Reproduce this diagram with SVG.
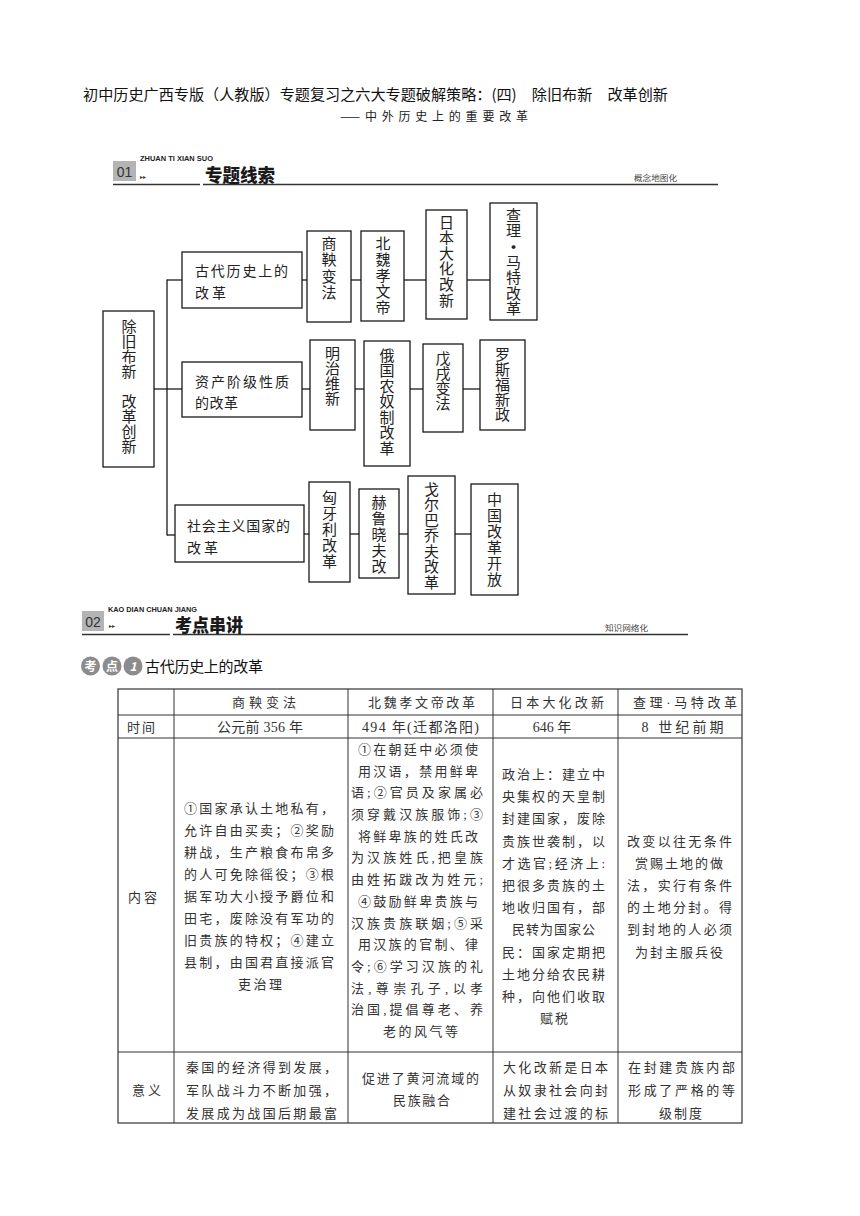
<svg xmlns="http://www.w3.org/2000/svg" width="860" height="1216" viewBox="0 0 860 1216">
<style>
text{font-family:"Noto Sans CJK SC","Liberation Sans",sans-serif;fill:#222}
.ttl{font-size:15px;fill:#111}
.sub{font-size:12px;fill:#222}
.hdr{font-size:18px;font-weight:900;fill:#1a1a1a}
.en{font-family:"Liberation Sans",sans-serif;font-size:7px;font-weight:bold;fill:#222}
.num{font-family:"Liberation Sans",sans-serif;font-size:14px;fill:#333;text-anchor:middle}
.arr{font-family:"DejaVu Sans",sans-serif;font-size:6px;fill:#333}
.tag{font-size:8px;fill:#444}
.gbox{fill:#b4b4b4}
.rule{stroke:#333;stroke-width:1.3}
.box{fill:#fff;stroke:#1a1a1a;stroke-width:1.3}
.vt{font-size:15px;writing-mode:vertical-rl;text-orientation:upright;fill:#222}
.nt{font-size:14px;fill:#222}
.con line{stroke:#1a1a1a;stroke-width:1.3}
.badge{fill:#8c8c8c}
.bt{font-size:12px;fill:#fff;text-anchor:middle;font-weight:bold}
.kt{font-size:15px;fill:#111}
.tl line{stroke:#333;stroke-width:1}
.tb{font-family:"Liberation Serif","Noto Sans CJK SC",serif;font-size:13px;fill:#333}
.tn{font-family:"Liberation Serif","Noto Sans CJK SC",serif;font-size:14px;fill:#333;text-anchor:middle}
</style>

<!-- title -->
<text class="ttl" x="83" y="100" textLength="585" lengthAdjust="spacingAndGlyphs">初中历史广西专版（人教版）专题复习之六大专题破解策略：(四)　除旧布新　改革创新</text>
<text class="sub" x="340" y="121" textLength="188" lengthAdjust="spacing">——中外历史上的重要改革</text>

<!-- section 01 header -->
<g id="section01">
<rect class="gbox" x="113" y="161" width="23" height="20"/>
<text class="num" x="124.5" y="177">01</text>
<text class="en" x="140" y="161" textLength="73" lengthAdjust="spacingAndGlyphs">ZHUAN TI XIAN SUO</text>
<text class="arr" x="140" y="179">▸▸</text>
<line class="rule" x1="113" y1="184.5" x2="200" y2="184.5"/>
<line class="rule" x1="203" y1="184.5" x2="718" y2="184.5"/>
<text class="hdr" x="205" y="182" textLength="70" lengthAdjust="spacingAndGlyphs">专题线索</text>
<text class="tag" x="634" y="181" textLength="43" lengthAdjust="spacingAndGlyphs">概念地图化</text>
</g>

<!-- connectors -->
<g id="connectors" class="con">
<line x1="154" y1="389" x2="167" y2="389"/>
<line x1="167" y1="279.5" x2="167" y2="535.5"/>
<line x1="167" y1="280" x2="182" y2="280"/>
<line x1="167" y1="389" x2="182" y2="389"/>
<line x1="167" y1="535" x2="175" y2="535"/>
<line x1="302" y1="280" x2="307" y2="280"/>
<line x1="351" y1="280" x2="361" y2="280"/>
<line x1="404" y1="280" x2="426" y2="280"/>
<line x1="467" y1="280" x2="490" y2="280"/>
<line x1="302" y1="389" x2="310" y2="389"/>
<line x1="355" y1="389" x2="364" y2="389"/>
<line x1="410" y1="389" x2="423" y2="389"/>
<line x1="463" y1="389" x2="480" y2="389"/>
<line x1="304" y1="534" x2="309" y2="534"/>
<line x1="350" y1="534" x2="359" y2="534"/>
<line x1="399" y1="534" x2="408" y2="534"/>
<line x1="455" y1="534" x2="471" y2="534"/>
</g>

<!-- main node -->
<g id="n-main">
<rect class="box" x="103" y="311" width="51" height="156"/>
<text class="vt" x="129" y="318.5" letter-spacing="0.1">除旧布新　改革创新</text>
</g>

<!-- category nodes -->
<g id="n-ancient">
<rect class="box" x="182" y="252" width="120" height="56"/>
<text class="nt" x="195" y="276" textLength="93" lengthAdjust="spacing">古代历史上的</text>
<text class="nt" x="195" y="298" textLength="31" lengthAdjust="spacing">改革</text>
</g>
<g id="n-bourgeois">
<rect class="box" x="182" y="362" width="120" height="55"/>
<text class="nt" x="195" y="387" textLength="94" lengthAdjust="spacing">资产阶级性质</text>
<text class="nt" x="195" y="408" textLength="43" lengthAdjust="spacing">的改革</text>
</g>
<g id="n-socialist">
<rect class="box" x="175" y="505" width="129" height="57"/>
<text class="nt" x="187" y="531" textLength="103" lengthAdjust="spacing">社会主义国家的</text>
<text class="nt" x="187" y="553" textLength="31" lengthAdjust="spacing">改革</text>
</g>

<!-- group 1 -->
<g id="n-shangyang">
<rect class="box" x="307" y="231" width="44" height="91"/>
<text class="vt" x="329" y="235.5" letter-spacing="1.5">商鞅变法</text>
</g>
<g id="n-xiaowen">
<rect class="box" x="361" y="231" width="43" height="90"/>
<text class="vt" x="383" y="235.5" letter-spacing="1">北魏孝文帝</text>
</g>
<g id="n-taika">
<rect class="box" x="426" y="210" width="41" height="109"/>
<text class="vt" x="446.5" y="214.5" letter-spacing="0.6">日本大化改新</text>
</g>
<g id="n-martel">
<rect class="box" x="490" y="203" width="47" height="117"/>
<text class="vt" x="513.5" y="207.5" letter-spacing="0.5">查理</text>
<text x="513.5" y="252.5" font-size="15" font-weight="bold" text-anchor="middle">·</text>
<text class="vt" x="513.5" y="254.5" letter-spacing="0.5">马特改革</text>
</g>

<!-- group 2 -->
<g id="n-meiji">
<rect class="box" x="310" y="340" width="45" height="90"/>
<text class="vt" x="332.5" y="345.5">明治维新</text>
</g>
<g id="n-russia">
<rect class="box" x="364" y="341" width="46" height="125"/>
<text class="vt" x="387" y="347.5" letter-spacing="0.5">俄国农奴制改革</text>
</g>
<g id="n-wuxu">
<rect class="box" x="423" y="344" width="40" height="88"/>
<text class="vt" x="443" y="350.5">戊戌变法</text>
</g>
<g id="n-roosevelt">
<rect class="box" x="480" y="340" width="45" height="90"/>
<text class="vt" x="502.5" y="346.5">罗斯福新政</text>
</g>

<!-- group 3 -->
<g id="n-hungary">
<rect class="box" x="309" y="482" width="41" height="100"/>
<text class="vt" x="329.5" y="489.5" letter-spacing="1">匈牙利改革</text>
</g>
<g id="n-khrushchev">
<rect class="box" x="359" y="489" width="40" height="89"/>
<text class="vt" x="379" y="494.5" letter-spacing="1">赫鲁晓夫改</text>
</g>
<g id="n-gorbachev">
<rect class="box" x="408" y="476" width="47" height="118"/>
<text class="vt" x="431.5" y="481.5" letter-spacing="0.5">戈尔巴乔夫改革</text>
</g>
<g id="n-china">
<rect class="box" x="471" y="484" width="47" height="111"/>
<text class="vt" x="494.5" y="491.5" letter-spacing="1">中国改革开放</text>
</g>

<!-- section 02 header -->
<g id="section02">
<rect class="gbox" x="82" y="611" width="22" height="20"/>
<text class="num" x="93" y="627">02</text>
<text class="en" x="108" y="612" textLength="89" lengthAdjust="spacingAndGlyphs">KAO DIAN CHUAN JIANG</text>
<text class="arr" x="109" y="628">▸▸</text>
<line class="rule" x1="82" y1="634.5" x2="170" y2="634.5"/>
<line class="rule" x1="173" y1="634.5" x2="688" y2="634.5"/>
<text class="hdr" x="175" y="632" textLength="68" lengthAdjust="spacingAndGlyphs">考点串讲</text>
<text class="tag" x="605" y="631" textLength="43" lengthAdjust="spacingAndGlyphs">知识网络化</text>
</g>

<!-- kaodian 1 -->
<g id="kaodian1">
<circle class="badge" cx="90.5" cy="666" r="9.5"/>
<circle class="badge" cx="112" cy="666" r="9.5"/>
<circle class="badge" cx="133" cy="666" r="9.5"/>
<text class="bt" x="90.5" y="670.5">考</text>
<text class="bt" x="112" y="670.5">点</text>
<text class="bt" x="133" y="670.5" font-style="italic" font-family="Liberation Sans, sans-serif">1</text>
<text class="kt" x="145" y="672" textLength="118" lengthAdjust="spacing">古代历史上的改革</text>
</g>

<!-- table -->
<g id="table">
<g class="tl">
<rect x="118" y="689" width="624" height="434" fill="none" stroke="#333" stroke-width="1.2"/>
<line x1="118" y1="715" x2="742" y2="715"/>
<line x1="118" y1="738" x2="742" y2="738"/>
<line x1="118" y1="1052" x2="742" y2="1052"/>
<line x1="174" y1="689" x2="174" y2="1123"/>
<line x1="348" y1="689" x2="348" y2="1123"/>
<line x1="493" y1="689" x2="493" y2="1123"/>
<line x1="618" y1="689" x2="618" y2="1123"/>
</g>
<!-- header row -->
<text class="tb" x="232" y="707" textLength="64" lengthAdjust="spacing">商鞅变法</text>
<text class="tb" x="368" y="707" textLength="107" lengthAdjust="spacing">北魏孝文帝改革</text>
<text class="tb" x="510" y="707" textLength="94" lengthAdjust="spacing">日本大化改新</text>
<text class="tb" x="633" y="707" textLength="104" lengthAdjust="spacing">查理·马特改革</text>
<!-- time row -->
<text class="tb" x="127" y="732" textLength="28" lengthAdjust="spacing">时间</text>
<text class="tn" x="260" y="732" textLength="86" lengthAdjust="spacing">公元前 356 年</text>
<text class="tn" x="420.5" y="732" textLength="117" lengthAdjust="spacing">494 年(迁都洛阳)</text>
<text class="tn" x="552" y="732">646 年</text>
<text class="tn" x="682.5" y="732" textLength="82" lengthAdjust="spacing">8 世纪前期</text>
<!-- content row -->
<text class="tb" x="128" y="902" textLength="29" lengthAdjust="spacing">内容</text>
<g id="c-shangyang">
<text class="tb" x="184" y="813" textLength="150" lengthAdjust="spacing">①国家承认土地私有，</text>
<text class="tb" x="184" y="835" textLength="150" lengthAdjust="spacing">允许自由买卖；②奖励</text>
<text class="tb" x="184" y="857" textLength="150" lengthAdjust="spacing">耕战，生产粮食布帛多</text>
<text class="tb" x="184" y="879" textLength="150" lengthAdjust="spacing">的人可免除徭役；③根</text>
<text class="tb" x="184" y="901" textLength="150" lengthAdjust="spacing">据军功大小授予爵位和</text>
<text class="tb" x="184" y="923" textLength="150" lengthAdjust="spacing">田宅，废除没有军功的</text>
<text class="tb" x="184" y="945" textLength="150" lengthAdjust="spacing">旧贵族的特权；④建立</text>
<text class="tb" x="184" y="967" textLength="150" lengthAdjust="spacing">县制，由国君直接派官</text>
<text class="tb" x="238" y="989" textLength="44" lengthAdjust="spacing">吏治理</text>
</g>
<g id="c-xiaowen">
<text class="tb" x="358" y="754" textLength="120" lengthAdjust="spacing">①在朝廷中必须使</text>
<text class="tb" x="358" y="776" textLength="120" lengthAdjust="spacing">用汉语，禁用鲜卑</text>
<text class="tb" x="351" y="797" textLength="132" lengthAdjust="spacing">语;②官员及家属必</text>
<text class="tb" x="351" y="819" textLength="132" lengthAdjust="spacing">须穿戴汉族服饰;③</text>
<text class="tb" x="358" y="841" textLength="120" lengthAdjust="spacing">将鲜卑族的姓氏改</text>
<text class="tb" x="351" y="862" textLength="132" lengthAdjust="spacing">为汉族姓氏,把皇族</text>
<text class="tb" x="351" y="884" textLength="132" lengthAdjust="spacing">由姓拓跋改为姓元;</text>
<text class="tb" x="358" y="906" textLength="120" lengthAdjust="spacing">④鼓励鲜卑贵族与</text>
<text class="tb" x="351" y="928" textLength="132" lengthAdjust="spacing">汉族贵族联姻;⑤采</text>
<text class="tb" x="358" y="949" textLength="120" lengthAdjust="spacing">用汉族的官制、律</text>
<text class="tb" x="351" y="971" textLength="132" lengthAdjust="spacing">令;⑥学习汉族的礼</text>
<text class="tb" x="351" y="993" textLength="132" lengthAdjust="spacing">法,尊崇孔子,以孝</text>
<text class="tb" x="351" y="1014" textLength="132" lengthAdjust="spacing">治国,提倡尊老、养</text>
<text class="tb" x="383" y="1036" textLength="75" lengthAdjust="spacing">老的风气等</text>
</g>
<g id="c-taika">
<text class="tb" x="502" y="779" textLength="103" lengthAdjust="spacing">政治上：建立中</text>
<text class="tb" x="502" y="801" textLength="103" lengthAdjust="spacing">央集权的天皇制</text>
<text class="tb" x="502" y="823" textLength="103" lengthAdjust="spacing">封建国家，废除</text>
<text class="tb" x="502" y="846" textLength="103" lengthAdjust="spacing">贵族世袭制，以</text>
<text class="tb" x="502" y="868" textLength="103" lengthAdjust="spacing">才选官;经济上:</text>
<text class="tb" x="502" y="890" textLength="103" lengthAdjust="spacing">把很多贵族的土</text>
<text class="tb" x="502" y="912" textLength="103" lengthAdjust="spacing">地收归国有，部</text>
<text class="tb" x="512" y="934" textLength="83" lengthAdjust="spacing">民转为国家公</text>
<text class="tb" x="502" y="957" textLength="103" lengthAdjust="spacing">民：国家定期把</text>
<text class="tb" x="502" y="979" textLength="103" lengthAdjust="spacing">土地分给农民耕</text>
<text class="tb" x="502" y="1001" textLength="103" lengthAdjust="spacing">种，向他们收取</text>
<text class="tb" x="540" y="1023" textLength="28" lengthAdjust="spacing">赋税</text>
</g>
<g id="c-martel">
<text class="tb" x="627" y="846" textLength="105" lengthAdjust="spacing">改变以往无条件</text>
<text class="tb" x="635" y="868" textLength="88" lengthAdjust="spacing">赏赐土地的做</text>
<text class="tb" x="627" y="890" textLength="105" lengthAdjust="spacing">法，实行有条件</text>
<text class="tb" x="627" y="912" textLength="105" lengthAdjust="spacing">的土地分封。得</text>
<text class="tb" x="627" y="934" textLength="105" lengthAdjust="spacing">到封地的人必须</text>
<text class="tb" x="635" y="957" textLength="88" lengthAdjust="spacing">为封主服兵役</text>
</g>
<!-- significance row -->
<text class="tb" x="132" y="1095" textLength="29" lengthAdjust="spacing">意义</text>
<text class="tb" x="186" y="1072" textLength="151" lengthAdjust="spacing">秦国的经济得到发展，</text>
<text class="tb" x="186" y="1095" textLength="151" lengthAdjust="spacing">军队战斗力不断加强，</text>
<text class="tb" x="186" y="1118" textLength="151" lengthAdjust="spacing">发展成为战国后期最富</text>
<text class="tb" x="362" y="1083" textLength="117" lengthAdjust="spacing">促进了黄河流域的</text>
<text class="tb" x="393" y="1105" textLength="57" lengthAdjust="spacing">民族融合</text>
<text class="tb" x="503" y="1072" textLength="105" lengthAdjust="spacing">大化改新是日本</text>
<text class="tb" x="503" y="1095" textLength="105" lengthAdjust="spacing">从奴隶社会向封</text>
<text class="tb" x="503" y="1118" textLength="105" lengthAdjust="spacing">建社会过渡的标</text>
<text class="tb" x="628" y="1072" textLength="107" lengthAdjust="spacing">在封建贵族内部</text>
<text class="tb" x="628" y="1095" textLength="107" lengthAdjust="spacing">形成了严格的等</text>
<text class="tb" x="659" y="1118" textLength="43" lengthAdjust="spacing">级制度</text>
</g>
</svg>
